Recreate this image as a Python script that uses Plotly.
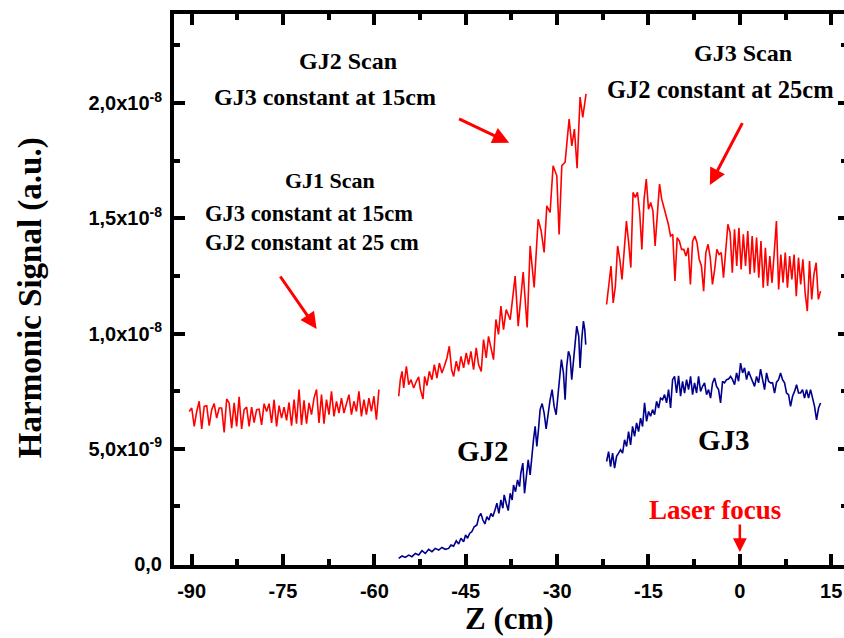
import numpy as np
import plotly.graph_objects as go

# ---------------- data (signal in units of 1e-9 a.u., Z in cm) ----------------
gj1_scan_vals = [6.62, 6.77, 5.97, 6.62, 7.06, 5.86, 6.84, 6.87, 6.00, 6.70,
                 6.96, 6.33, 6.77, 6.77, 5.71, 7.16, 6.99, 5.90, 6.99, 5.97,
                 7.25, 5.86, 6.70, 6.81, 5.97, 6.81, 6.14, 6.70, 6.72, 6.04,
                 6.96, 6.62, 6.96, 6.12, 7.13, 5.97, 6.87, 6.33, 6.81, 6.23,
                 7.01, 6.00, 7.13, 6.09, 7.57, 6.04, 7.10, 6.09, 6.99, 6.48,
                 7.20, 7.57, 6.12, 7.35, 6.09, 7.13, 6.48, 7.49, 6.41, 7.06,
                 6.55, 7.20, 6.55, 6.99, 7.35, 6.48, 7.06, 6.62, 7.49, 6.41,
                 7.13, 6.48, 7.20, 6.62, 7.28, 6.26, 7.57]
gj1_scan_z = np.linspace(-90.4, -59.26, len(gj1_scan_vals))

gj2_scan_z = [-56.01, -55.74, -55.46, -55.19, -54.75, -54.37, -53.99, -53.55, -53.11, -52.73,
              -52.46, -52.02, -51.75, -51.37, -50.98, -50.55, -50.16, -49.73, -49.34, -48.91,
              -48.52, -48.09, -47.70, -47.32, -46.99, -46.56, -46.17, -45.79, -45.35, -44.92,
              -44.54, -44.15, -43.72, -43.28, -42.90, -42.46, -42.08, -41.64, -41.26, -40.87,
              -40.44, -40.05, -39.62, -39.23, -38.80, -38.36,
              -37.70, -36.89, -36.39, -35.57, -34.92, -34.43, -33.77, -33.11, -32.62, -32.13,
              -31.69, -31.15, -30.66, -30.05, -29.67, -29.23, -28.69, -28.03, -27.59, -27.16,
              -26.72, -26.23, -25.79, -25.25]
gj2_scan_vals = [7.28, 8.00, 8.36, 7.64, 8.58, 7.78, 8.00, 7.64, 7.93, 8.12,
                 7.59, 7.16, 8.14, 7.74, 8.36, 8.00, 8.65, 8.07, 8.72, 8.29,
                 8.58, 8.94, 9.45, 8.43, 8.14, 8.80, 8.36, 9.01, 8.51, 9.16,
                 8.65, 9.23, 8.43, 9.38, 8.65, 8.36, 9.74, 8.94, 9.88, 9.45,
                 8.87, 10.61, 9.96, 11.19, 10.17, 11.04,
                 10.60, 12.49, 10.32, 12.67, 10.26, 13.80, 12.00, 14.96, 14.45, 13.52,
                 15.54, 15.25, 17.28, 16.84, 14.30, 17.28, 17.43, 19.30, 18.14, 18.87,
                 17.17, 20.26, 19.38, 20.40]

gj3_scan_vals = [11.26, 12.20, 12.93, 11.33, 12.06, 13.80, 13.22, 12.35, 13.65, 14.88,
                 13.94, 12.86, 16.12, 15.90, 16.12, 15.25, 13.65, 15.83, 16.70, 15.39,
                 15.68, 15.32, 13.80, 15.39, 16.48, 15.83, 15.46, 15.03, 14.74, 14.23,
                 14.30, 12.28, 14.16, 14.01, 13.65, 13.65, 13.36, 13.72, 12.13, 14.01,
                 14.23, 13.94, 13.22, 12.93, 11.84, 13.51, 13.87, 13.29, 12.13, 12.78,
                 13.65, 13.43, 13.51, 12.42, 13.72, 14.74, 14.38, 12.64, 14.52, 12.93,
                 14.59, 12.78, 14.30, 12.93, 14.45, 12.57, 14.23, 12.64, 14.16, 12.42,
                 14.01, 11.99, 13.72, 12.06, 13.36, 12.20, 13.51, 14.88, 11.91, 13.43,
                 12.20, 13.51, 11.99, 13.36, 12.35, 13.43, 11.62, 13.29, 12.13, 13.22,
                 11.77, 10.97, 13.14, 11.48, 12.57, 13.07, 11.48, 11.84]
gj3_scan_z = np.linspace(-21.88, 13.25, len(gj3_scan_vals))

gj2_z = [-56.01, -55.46, -54.92, -54.37, -53.83, -53.28, -52.73, -52.19, -51.64, -51.09,
         -50.55, -50.00, -49.45, -48.91, -48.36, -47.81, -47.43, -46.99, -46.56, -46.17,
         -45.79, -45.35, -45.03, -44.70, -44.37, -43.99, -43.61, -43.17, -42.84, -42.51,
         -42.19, -41.86, -41.53, -41.20, -40.87, -40.55, -40.16, -39.89, -39.56, -39.23,
         -38.91, -38.69, -38.36, -38.03, -37.70, -37.38, -37.16, -36.83, -36.50, -36.17,
         -35.96, -35.63, -35.35, -35.08, -34.75, -34.43, -34.15, -33.88, -33.61, -33.33,
         -33.06, -32.79, -32.46, -32.13, -31.80, -31.42, -31.15, -30.82, -30.49, -30.16,
         -29.84, -29.51, -29.29, -28.96, -28.69, -28.42, -28.14, -27.87, -27.60, -27.32,
         -27.05, -26.78, -26.45, -26.23, -25.96, -25.68, -25.46, -25.30]
gj2_vals = [0.25, 0.35, 0.29, 0.39, 0.32, 0.46, 0.39, 0.58, 0.46, 0.64,
            0.54, 0.68, 0.61, 0.72, 0.64, 0.68, 0.83, 0.78, 1.01, 0.87,
            1.12, 0.97, 1.26, 1.12, 1.33, 1.41, 1.62, 1.70, 2.06, 2.20,
            1.91, 1.74, 2.06, 1.91, 2.20, 2.06, 2.38, 2.64, 2.20, 2.78,
            2.42, 3.00, 2.64, 2.32, 3.07, 2.78, 3.43, 3.14, 3.65, 3.36,
            3.94, 4.38, 3.07, 3.80, 4.52, 3.87, 4.81, 5.39, 5.97, 5.10,
            5.83, 6.70, 6.96, 6.55, 5.86, 6.70, 7.13, 7.57, 6.84, 6.48,
            7.57, 8.29, 8.87, 8.29, 7.13, 8.58, 9.23, 9.01, 8.00, 8.72,
            9.59, 10.32, 9.88, 8.51, 9.74, 10.54, 10.17, 9.52]

gj3_vals = [4.45, 4.88, 4.23, 4.81, 4.16, 4.67, 4.81, 4.96, 4.81, 5.39,
            5.10, 5.75, 5.17, 5.97, 5.54, 6.12, 5.75, 6.33, 5.97, 6.99,
            6.19, 6.62, 6.41, 6.70, 6.48, 7.06, 6.77, 7.20, 7.13, 7.35,
            6.99, 7.57, 6.77, 8.00, 8.14, 7.42, 8.17, 7.28, 7.93, 7.42,
            8.00, 7.57, 8.14, 7.35, 7.86, 7.42, 8.14, 7.49, 7.71, 7.86,
            7.35, 7.57, 7.20, 7.86, 8.07, 7.71, 7.57, 6.99, 7.93, 7.86,
            8.00, 8.03, 8.14, 8.00, 7.78, 8.29, 7.93, 8.72, 8.29, 8.51,
            8.00, 8.36, 8.14, 7.93, 7.71, 8.14, 7.86, 8.46, 7.93, 7.57,
            8.29, 7.93, 7.86, 7.86, 7.42, 7.89, 8.00, 8.29, 8.00, 7.86,
            7.42, 7.35, 6.84, 7.28, 7.49, 7.78, 7.42, 7.42, 7.57, 7.20,
            7.57, 7.20, 7.57, 7.20, 6.84, 6.26, 6.77, 6.99]
gj3_z = np.linspace(-21.88, 13.25, len(gj3_vals))

x_tickvals = [-90, -75, -60, -45, -30, -15, 0, 15]
x_ticktext = ["-90", "-75", "-60", "-45", "-30", "-15", "0", "15"]
y_tickvals = [0, 5, 10, 15, 20]
y_ticktext = ["0,0", "5,0x10<sup>-9</sup>", "1,0x10<sup>-8</sup>",
              "1,5x10<sup>-8</sup>", "2,0x10<sup>-8</sup>"]

RED = "#ff0000"
NAVY = "#00008b"

fig = go.Figure()
for zz, vv, col in [(gj1_scan_z, gj1_scan_vals, RED),
                    (gj2_scan_z, gj2_scan_vals, RED),
                    (gj3_scan_z, gj3_scan_vals, RED),
                    (gj2_z, gj2_vals, NAVY),
                    (gj3_z, gj3_vals, NAVY)]:
    fig.add_trace(go.Scatter(x=list(zz), y=vv, mode="lines",
                             line=dict(color=col, width=1.6),
                             showlegend=False, hoverinfo="skip"))
# empty trace to hold the right-hand tick axis
fig.add_trace(go.Scatter(x=[None], y=[None], yaxis="y2", showlegend=False))

tickfont = dict(family="Liberation Sans", size=20, color="black", weight="bold")
serif = "Liberation Serif"

XR = [-92.9, 17.1]
YR = [-0.04, 23.86]

fig.update_layout(
    width=844, height=638,
    margin=dict(l=174, r=0, t=14, b=73),
    paper_bgcolor="white", plot_bgcolor="white",
    xaxis=dict(range=XR, showgrid=False, zeroline=False,
               showline=True, linewidth=4, linecolor="black", mirror="ticks",
               ticks="inside", ticklen=11, tickwidth=3.5, tickcolor="black",
               tickvals=x_tickvals, ticktext=x_ticktext, tickfont=tickfont,
               ticklabelstandoff=5,
               minor=dict(ticks="inside", ticklen=6, tickwidth=3.5, tickcolor="black",
                          tickvals=[-82.5, -67.5, -52.5, -37.5, -22.5, -7.5, 7.5])),
    yaxis=dict(range=YR, showgrid=False, zeroline=False,
               showline=True, linewidth=4, linecolor="black", mirror=False,
               ticks="inside", ticklen=11, tickwidth=3.5, tickcolor="black",
               tickvals=y_tickvals, ticktext=y_ticktext, tickfont=tickfont,
               ticklabelstandoff=4,
               minor=dict(ticks="inside", ticklen=6, tickwidth=3.5, tickcolor="black",
                          tickvals=[2.5, 7.5, 12.5, 17.5, 22.5])),
    yaxis2=dict(range=YR, overlaying="y", side="right", showgrid=False,
                zeroline=False, showline=False, showticklabels=False,
                ticks="inside", ticklen=6, tickwidth=3.5, tickcolor="black",
                tickvals=y_tickvals,
                minor=dict(ticks="inside", ticklen=3, tickwidth=3.5, tickcolor="black",
                           tickvals=[2.5, 7.5, 12.5, 17.5, 22.5])),
)

def txt(x, y, s, size, color="black"):
    fig.add_annotation(x=x, y=y, xref="x", yref="y", text="<b>%s</b>" % s,
                       showarrow=False, xanchor="center", yanchor="middle",
                       font=dict(family=serif, size=size, color=color))

txt(-64.35, 21.80, "GJ2 Scan", 24)
txt(-68.12, 20.26, "GJ3 constant at 15cm", 24)
txt(-67.22, 16.65, "GJ1 Scan", 22)
txt(-70.75, 15.22, "GJ3 constant at 15cm", 22.5)
txt(-70.17, 13.96, "GJ2 constant at 25 cm", 22.5)
txt(0.57, 22.19, "GJ3 Scan", 24)
txt(-3.12, 20.59, "GJ2 constant at 25cm", 24.5)
txt(-42.10, 4.89, "GJ2", 29)
txt(-2.54, 5.37, "GJ3", 29)
txt(-4.02, 2.35, "Laser focus", 27, RED)

def arrow(x0, y0, x1, y1, w=3):
    fig.add_annotation(x=x1, y=y1, ax=x0, ay=y0, xref="x", yref="y",
                       axref="x", ayref="y", text="", showarrow=True,
                       arrowhead=2, arrowsize=1.1, arrowwidth=w, arrowcolor=RED)

arrow(-46.34, 19.34, -37.87, 18.28)
arrow(-75.62, 12.54, -69.48, 10.20)
arrow(0.54, 19.19, -4.92, 16.44)
arrow(0, 1.78, 0, 0.52, w=2.5)

# axis titles
fig.add_annotation(xref="paper", yref="paper", x=-0.215, y=0.486,
                   text="<b>Harmonic Signal (a.u.)</b>", textangle=-90,
                   showarrow=False, xanchor="center", yanchor="middle",
                   font=dict(family=serif, size=33, color="black"))
fig.add_annotation(xref="paper", yref="paper", x=0.5, y=-0.0962,
                   text="<b>Z (cm)</b>", showarrow=False,
                   xanchor="center", yanchor="middle",
                   font=dict(family=serif, size=31, color="black"))

fig.write_html("out.html", config={"displayModeBar": False},
               post_script="document.body.style.margin='0px';"
                           "document.body.style.overflow='hidden';")
